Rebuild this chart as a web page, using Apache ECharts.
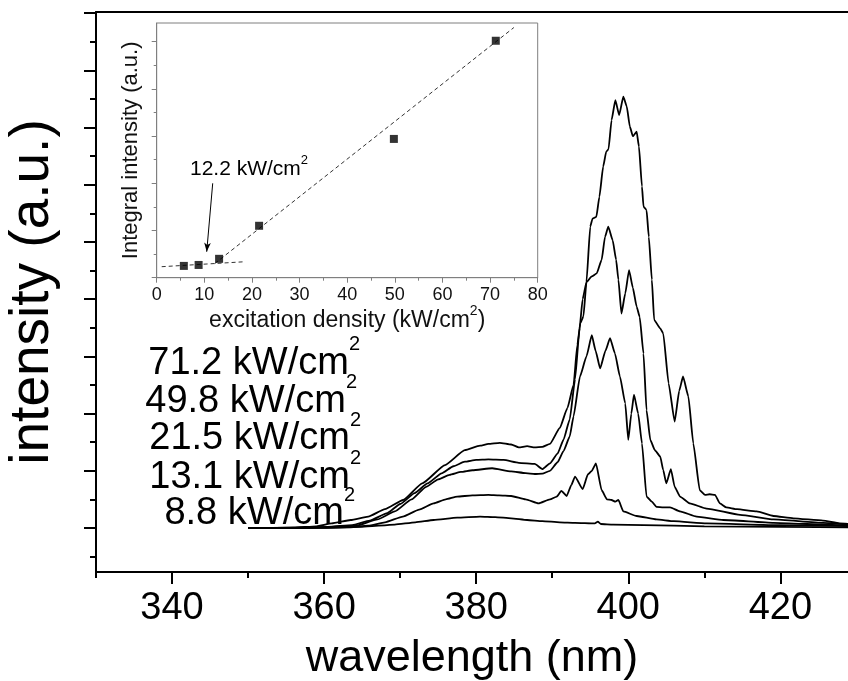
<!DOCTYPE html>
<html><head><meta charset="utf-8">
<script src="https://cdn.jsdelivr.net/npm/echarts@6/dist/echarts.min.js"></script>
<style>html,body{margin:0;padding:0;background:#fff}#c{width:848px;height:681px}</style>
</head><body><div id="c"></div>
<script>
// ---- data ----
const xTickLabels = [340, 360, 380, 400, 420];
const densityLabels = ['71.2', '49.8', '21.5', '13.1', '8.8'];

const spec712 = [[350,0],[356,0.005],[359,0.03],[361,0.08],[363.5,0.14],[365.8,0.20],[368,0.33],[370.4,0.49],[372.9,0.78],[375.9,1.10],[378.5,1.36],[380.5,1.44],[381.6,1.47],[383.1,1.49],[384.6,1.46],[385.6,1.41],[386.7,1.43],[387.7,1.41],[388.7,1.42],[389.7,1.47],[391.0,1.75],[392.0,2.1],[392.8,2.5],[393.3,3.2],[393.7,3.58],[394.1,3.7],[394.5,4.3],[395.0,5.27],[395.3,5.41],[395.8,5.44],[396.2,5.79],[396.7,6.32],[397.1,6.58],[397.4,6.62],[397.8,7.13],[398.3,7.48],[398.8,7.22],[399.35,7.54],[399.8,7.37],[400.2,7.02],[400.6,6.85],[401.1,6.93],[401.4,6.67],[401.8,5.97],[402.0,5.62],[402.4,5.56],[402.7,5.09],[403.1,4.34],[403.4,3.64],[404.2,3.49],[404.6,3.40],[405.3,2.53],[406.1,1.86],[406.7,2.40],[407.2,2.65],[407.9,2.30],[408.55,1.48],[409.4,0.66],[410.1,0.58],[410.7,0.59],[411.4,0.58],[412.05,0.43],[412.9,0.36],[414.3,0.33],[416.9,0.29],[419.1,0.21],[421.7,0.17],[425.6,0.13],[427.8,0.08],[430,0.06]];
const spec498 = [[350,0],[357,0.005],[360.5,0.02],[363.7,0.05],[366,0.13],[368.3,0.26],[370,0.42],[371.9,0.61],[373.6,0.78],[375.45,0.955],[377,1.08],[378.5,1.16],[380,1.19],[381.6,1.20],[383.6,1.19],[385.6,1.14],[387.7,1.12],[388.7,1.03],[389.7,1.13],[390.7,1.30],[391.5,1.55],[392.3,1.9],[393.0,2.6],[393.6,3.5],[394.0,4.0],[394.5,4.3],[395.2,4.4],[395.85,4.45],[396.5,4.69],[396.94,5.09],[397.37,5.27],[397.95,5.03],[398.4,4.69],[398.7,4.34],[399.1,3.75],[399.6,4.1],[400.1,4.51],[400.6,4.2],[401.1,3.87],[401.5,3.69],[402.0,3.05],[402.4,2.06],[402.9,1.54],[403.5,1.36],[404.2,1.25],[404.6,1.01],[405.0,0.78],[405.6,1.03],[406.1,0.72],[406.8,0.55],[408.1,0.43],[410.3,0.34],[414.7,0.23],[419.1,0.15],[425.6,0.09],[430,0.05]];
const spec215 = [[350,0],[357,0.005],[361,0.02],[364.2,0.04],[367,0.15],[369.3,0.29],[371.5,0.50],[373.4,0.72],[375,0.85],[376.5,0.93],[378,0.98],[379.5,1.01],[382.1,1.045],[384.6,0.99],[386.5,0.96],[387.7,0.944],[388.7,0.95],[389.7,1.0],[390.7,1.15],[391.5,1.35],[392.3,1.6],[392.8,1.95],[393.65,2.65],[394.5,3.0],[395.2,3.37],[395.7,3.1],[396.3,2.79],[397.0,3.1],[397.6,3.32],[398.25,3.05],[398.9,2.65],[399.6,2.18],[400.0,1.54],[400.4,2.0],[400.75,2.33],[401.3,2.0],[401.8,1.48],[402.4,0.55],[403.1,0.46],[403.7,0.37],[404.6,0.36],[405.5,0.36],[406.8,0.29],[409.0,0.20],[412.5,0.14],[419.1,0.09],[427.8,0.05],[430,0.04]];
const spec131 = [[350,0],[360,0.003],[363,0.01],[365.8,0.04],[368,0.10],[370.35,0.20],[372.5,0.32],[374.4,0.43],[376,0.50],[377.5,0.55],[379.5,0.57],[381.6,0.58],[383,0.57],[384.6,0.56],[386.5,0.50],[388.2,0.43],[389.7,0.50],[390.6,0.55],[391.2,0.65],[391.9,0.56],[392.5,0.75],[393.0,0.90],[394.0,0.68],[394.7,0.94],[395.2,1.0],[395.75,1.13],[396.5,0.66],[397.2,0.50],[397.8,0.49],[398.3,0.46],[398.7,0.49],[399.35,0.29],[401.1,0.21],[403.7,0.15],[406,0.12],[410.3,0.08],[420,0.05],[430,0.03]];
const spec88 = [[350,0],[360,0.005],[365,0.02],[369.3,0.06],[372,0.10],[374.4,0.14],[377.5,0.18],[380.5,0.20],[382.5,0.19],[384.6,0.17],[386.7,0.14],[388.7,0.12],[391,0.10],[393,0.09],[395.6,0.08],[396.0,0.11],[396.4,0.07],[398,0.06],[402,0.05],[410,0.03],[420,0.02],[430,0.01]];

const densityX = [5.7, 8.8, 13.1, 21.5, 49.8, 71.2];
const integralY = [0.25, 0.27, 0.40, 1.10, 2.94, 5.02];
const fitLow = [[1.05, 0.233], [18.6, 0.339]];
const fitHigh = [[12.2, 0.30], [75, 5.30]];
const thresholdArrow = [[11.76, 2.0], [10.5, 0.55]];
const thresholdLabel = '12.2';

// ---- chart ----
const FF = '"Liberation Sans", Arial, sans-serif';
const chart = echarts.init(document.getElementById('c'), null, {renderer: 'canvas'});
const blk = '#000', gray = '#7f7f7f', txt = '#111';
const hidden = {show: false};
const noZeroLine = (style, show) => ({show: show !== false, onZero: false, lineStyle: style});

const specList = [spec712, spec498, spec215, spec131, spec88];
const X_MAIN = 0, Y_MAIN = 0, X_INSET = 5, Y_INSET = 4;
const series = specList.map(d => ({
  type: 'line', xAxisIndex: X_MAIN, yAxisIndex: Y_MAIN, data: d, showSymbol: false,
  smooth: 0.15, smoothMonotone: 'x', lineStyle: {color: blk, width: 1.8}, z: 3, silent: true
}));
series.push({
  type: 'scatter', xAxisIndex: X_INSET, yAxisIndex: Y_INSET,
  data: densityX.map((x, i) => [x, integralY[i]]),
  symbol: 'rect', symbolSize: 8, itemStyle: {color: blk}, z: 5, silent: true,
  markLine: {
    silent: true, symbol: ['none', 'arrow'], symbolSize: [5, 9],
    lineStyle: {color: blk, width: 1, type: 'solid'}, label: {show: false},
    data: [[{coord: thresholdArrow[0]}, {coord: thresholdArrow[1]}]]
  }
});
[fitLow, fitHigh].forEach(f => series.push({
  type: 'line', xAxisIndex: X_INSET, yAxisIndex: Y_INSET, data: f, showSymbol: false,
  lineStyle: {color: '#333', width: 1, type: [4, 3]}, z: 4, silent: true
}));

const supRich = (base, sup, L, col) => ({
  a: {fontSize: base, fontFamily: FF, color: col, lineHeight: L},
  s: {fontSize: sup, fontFamily: FF, color: col, verticalAlign: 'top'}
});
const labelEnds = [360, 357, 361, 361, 355];
const labelBaselines = [372.7, 410.7, 448, 486.7, 523];
const labelGraphics = densityLabels.map((t, i) => ({
  type: 'text', x: labelEnds[i], y: labelBaselines[i] - 9,
  style: {
    text: '{a|' + t + ' kW/cm}{s|2}', align: 'right', verticalAlign: 'middle',
    rich: supRich(38, 20, 58, blk)
  }, z: 10
}));
labelGraphics.push({
  type: 'text', x: 190, y: 169,
  style: {
    text: '{a|' + thresholdLabel + ' kW/cm}{s|2}', align: 'left', verticalAlign: 'middle',
    rich: supRich(21, 13, 31, txt)
  }, z: 10
});

const PX_PER_NM = 7.604;
const X_LEFT = 96;
const xMaxVisible = 330 + (848 - X_LEFT) / PX_PER_NM;  // axis is cut by the canvas edge
const G = o => Object.assign({outerBoundsMode: 'none', containLabel: false}, o);
const option = {
  backgroundColor: '#fff',
  animation: false,
  grid: [
    G({left: X_LEFT, right: 0, top: 12, height: 560}),
    G({left: X_LEFT + 10 * PX_PER_NM, width: 80 * PX_PER_NM, top: 12, height: 560}),
    G({left: X_LEFT, right: 0, top: 13.2, height: 543.4}),
    G({left: X_LEFT, right: 0, top: 13.2, height: 514.8}),
    G({left: 156.7, right: 310.3, top: 23, bottom: 403.3, show: true, borderColor: gray, borderWidth: 1, backgroundColor: '#fff'}),
    G({left: 156.7, right: 310.3, top: 41.7, bottom: 403.3}),
    G({left: X_LEFT, width: 90 * PX_PER_NM, top: 12, height: 560})
  ],
  xAxis: [
    {gridIndex: 0, type: 'value', min: 330, max: xMaxVisible, position: 'bottom',
      axisLine: noZeroLine({color: blk, width: 2}), axisTick: hidden, axisLabel: hidden, splitLine: hidden,
      name: 'wavelength (nm)', nameLocation: 'middle', nameGap: 64,
      nameTextStyle: {fontSize: 45, color: blk, fontFamily: FF}},
    {gridIndex: 0, type: 'value', min: 330, max: xMaxVisible, position: 'top',
      axisLine: noZeroLine({color: blk, width: 2}), axisTick: hidden, axisLabel: hidden, splitLine: hidden},
    {gridIndex: 1, type: 'value', min: 340, max: 420, interval: 20, position: 'bottom',
      axisLine: noZeroLine({color: blk}, false), axisTick: {length: 12, lineStyle: {color: blk, width: 2}},
      axisLabel: {formatter: v => xTickLabels.includes(v) ? String(v) : '', fontSize: 38, color: blk, fontFamily: FF, margin: 18},
      splitLine: hidden},
    {gridIndex: 2, type: 'value', show: false},
    {gridIndex: 3, type: 'value', show: false},
    {gridIndex: 4, type: 'value', min: 0, max: 80, interval: 10,
      axisLine: noZeroLine({color: gray, width: 1}),
      axisTick: {length: 5, lineStyle: {color: gray}},
      minorTick: {show: true, splitNumber: 2, length: 3, lineStyle: {color: gray}},
      axisLabel: {fontSize: 18, color: txt, fontFamily: FF, margin: 8},
      splitLine: hidden, minorSplitLine: hidden,
      name: '{a|excitation density (kW/cm}{s|2}{a|)}', nameLocation: 'middle', nameGap: 26,
      nameTextStyle: {fontSize: 23, color: txt, fontFamily: FF, rich: supRich(23, 14, 33, txt)}},
    {gridIndex: 5, type: 'value', show: false},
    {gridIndex: 6, type: 'value', min: 330, max: 420, interval: 10, position: 'bottom',
      axisLine: noZeroLine({color: blk}, false), axisTick: {length: 6, lineStyle: {color: blk, width: 2}},
      axisLabel: hidden, splitLine: hidden}
  ],
  yAxis: [
    {gridIndex: 0, type: 'value', min: -0.769, max: 9.021,
      axisLine: noZeroLine({color: blk, width: 2}), axisTick: hidden, axisLabel: hidden, splitLine: hidden,
      name: 'intensity (a.u.)', nameLocation: 'middle', nameGap: 36,
      nameTextStyle: {fontSize: 55, color: blk, fontFamily: FF}},
    {gridIndex: 1, type: 'value', show: false},
    {gridIndex: 2, type: 'value', min: -0.5, max: 9, interval: 0.5,
      axisLine: noZeroLine({color: blk}, false), axisTick: {show: true, length: 6, lineStyle: {color: blk, width: 2}}, axisLabel: hidden, splitLine: hidden},
    {gridIndex: 3, type: 'value', min: 0, max: 9, interval: 1,
      axisLine: noZeroLine({color: blk}, false), axisTick: {show: true, length: 12, lineStyle: {color: blk, width: 2}}, axisLabel: hidden, splitLine: hidden},
    {gridIndex: 4, type: 'value', min: 0, max: 5.396,
      axisLine: noZeroLine({color: gray, width: 1}), axisTick: hidden, axisLabel: hidden, splitLine: hidden,
      name: 'Integral intensity (a.u.)', nameLocation: 'middle', nameGap: 15,
      nameTextStyle: {fontSize: 22, color: txt, fontFamily: FF}},
    {gridIndex: 5, type: 'value', min: 0, max: 5, interval: 1,
      axisLine: noZeroLine({color: gray}, false), axisTick: {show: true, length: 5, lineStyle: {color: gray}},
      minorTick: {show: true, splitNumber: 2, length: 3, lineStyle: {color: gray}},
      axisLabel: hidden, splitLine: hidden, minorSplitLine: hidden},
    {gridIndex: 6, type: 'value', show: false}
  ],
  graphic: labelGraphics,
  series: series
};
chart.setOption(option);
</script></body></html>
